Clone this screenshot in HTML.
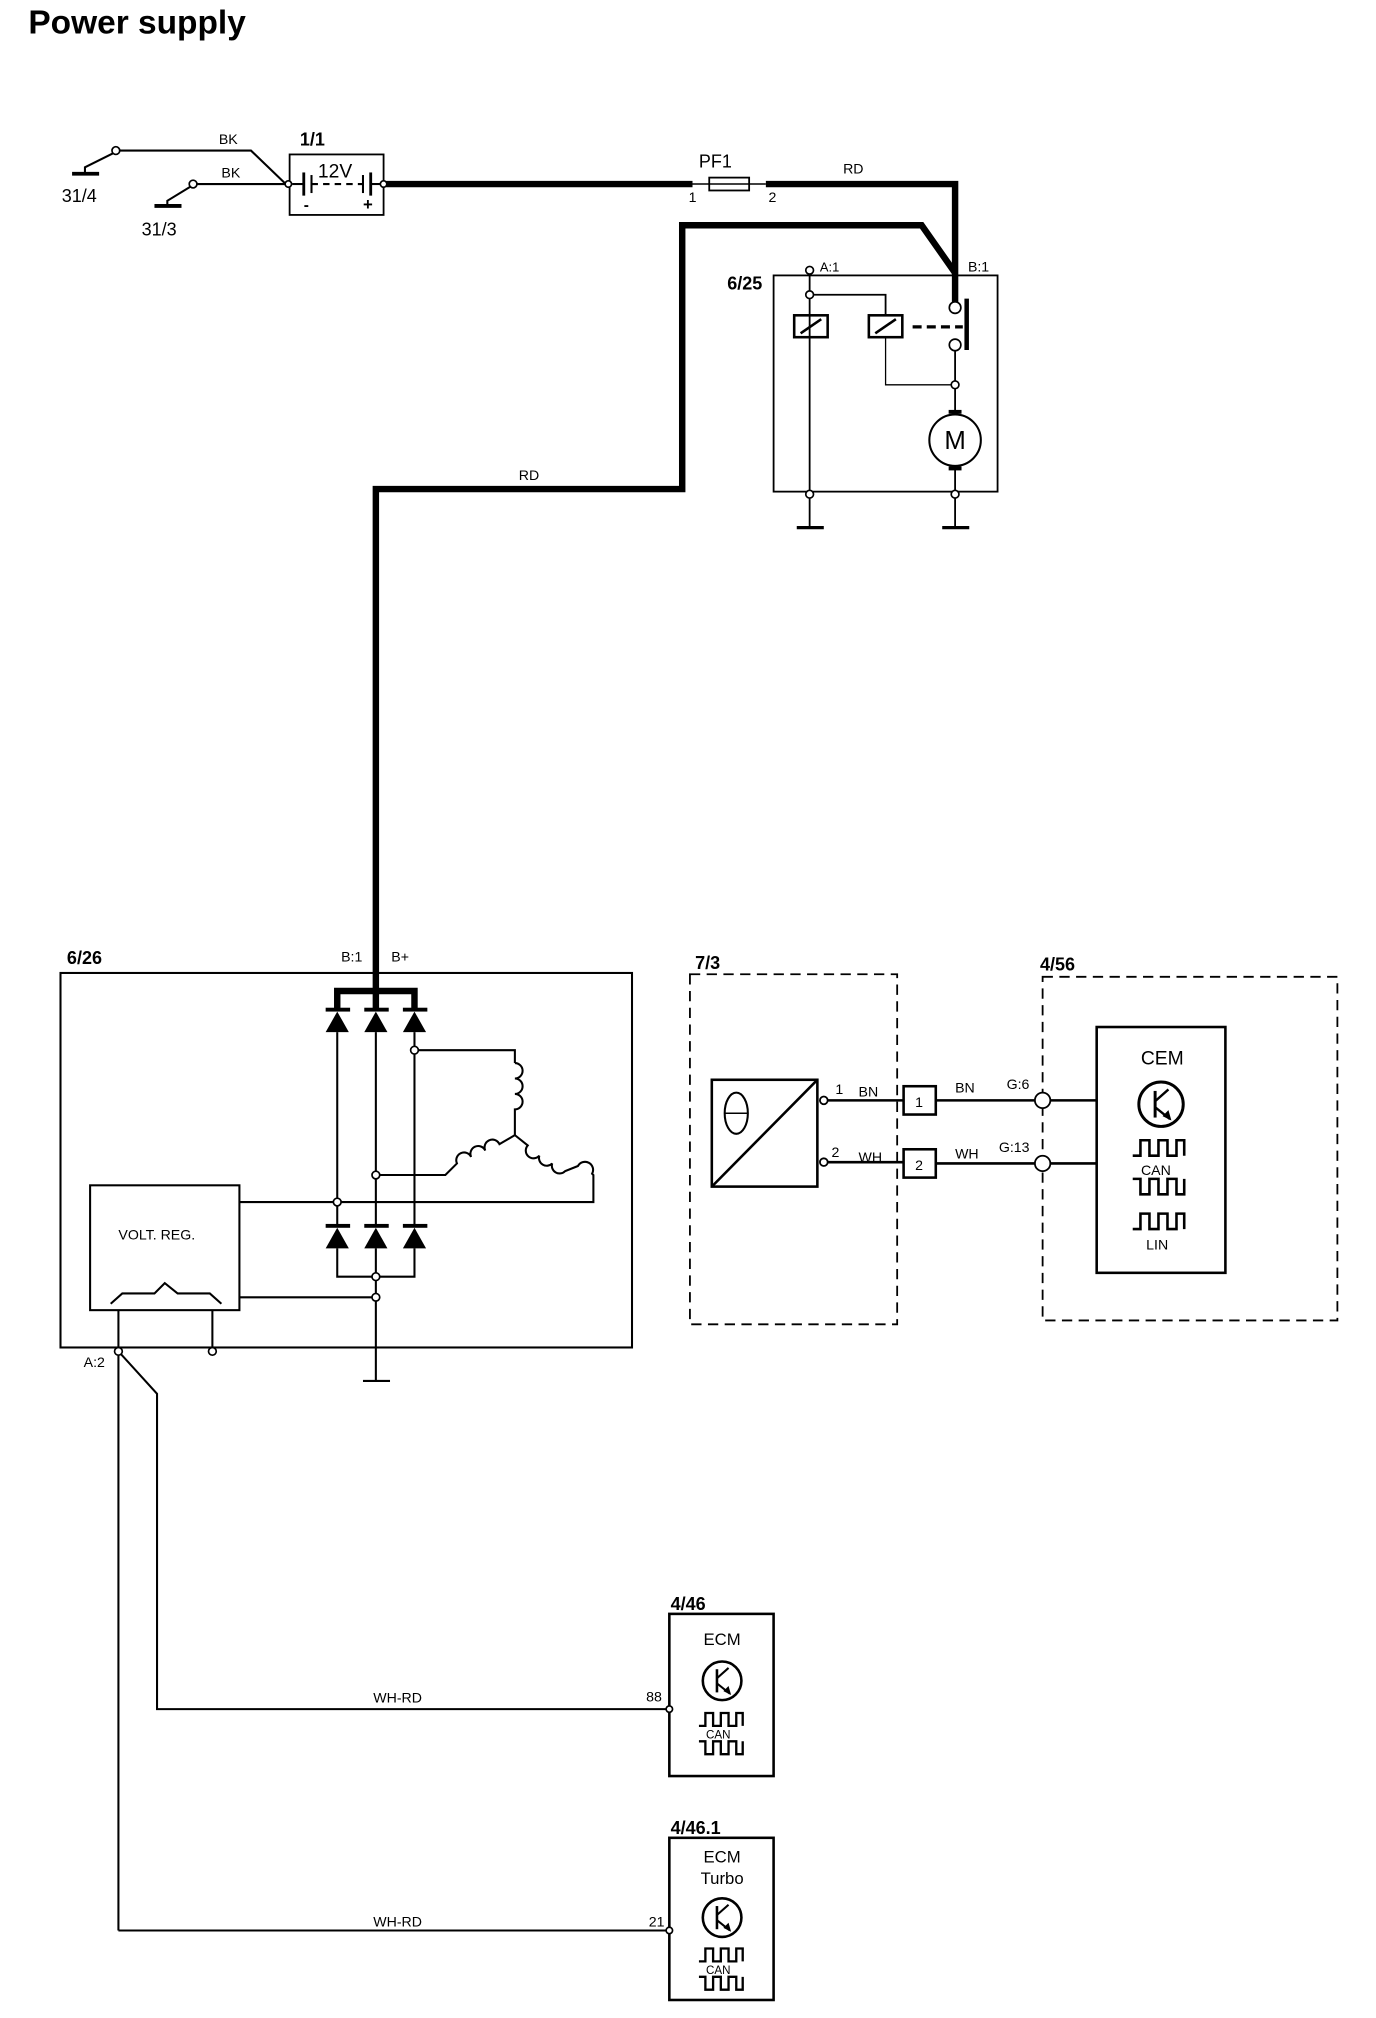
<!DOCTYPE html>
<html><head><meta charset="utf-8"><style>
html,body{margin:0;padding:0;background:#fff;}
svg{display:block;}
text{font-family:"Liberation Sans",sans-serif;fill:#000;}
.b{font-weight:bold;}
</style></head><body>
<svg width="1376" height="2018" viewBox="0 0 1069 1568" preserveAspectRatio="none" xmlns="http://www.w3.org/2000/svg">
<defs>
<g id="tr"><circle cx="0" cy="0" r="15" fill="none" stroke="#000" stroke-width="2"/><line x1="-4" y1="-9" x2="-4" y2="9" stroke="#000" stroke-width="2"/><line x1="-4" y1="-2" x2="5" y2="-10" stroke="#000" stroke-width="1.6"/><line x1="-4" y1="2" x2="6" y2="10" stroke="#000" stroke-width="1.6"/><polygon points="7,11 1,8 5,4" fill="#000"/></g>
<path id="wv" d="M0,12 h6 v-12 h7 v12 h7 v-12 h7 v12 h7 v-12 h6 v12" fill="none" stroke="#000" stroke-width="2"/>
<path id="wv2" d="M0,0 h6 v12 h7 v-12 h7 v12 h7 v-12 h7 v12 h6 v-12" fill="none" stroke="#000" stroke-width="2"/>
<path id="sw" d="M0,10 h5 v-10 h6 v10 h6 v-10 h6 v10 h6 v-10 h5 v10" fill="none" stroke="#000" stroke-width="1.8"/>
<path id="sw2" d="M0,0 h5 v10 h6 v-10 h6 v10 h6 v-10 h6 v10 h5 v-10" fill="none" stroke="#000" stroke-width="1.8"/>
</defs>
<rect width="1069" height="1568" fill="#fff"/>
<text x="22" y="26" font-size="26" class="b">Power supply</text>

<g stroke="#000" fill="none" stroke-width="1.6">
<polyline points="90,117 195,117 222,143"/>
<polyline points="88,119 66,130 66,135"/>
<line x1="56" y1="135" x2="77" y2="135" stroke-width="3"/>
<line x1="150" y1="143" x2="222" y2="143"/>
<polyline points="148,145 130,156 130,160"/>
<line x1="120" y1="160" x2="141" y2="160" stroke-width="3"/>
<rect x="225" y="120" width="73" height="47" stroke-width="1.4"/>
<line x1="227" y1="143" x2="236" y2="143"/>
<line x1="236" y1="134" x2="236" y2="152" stroke-width="2.2"/>
<line x1="242" y1="136" x2="242" y2="150"/>
<line x1="242" y1="143" x2="282" y2="143" stroke-dasharray="5,4"/>
<line x1="282" y1="136" x2="282" y2="150"/>
<line x1="288" y1="134" x2="288" y2="152" stroke-width="2.2"/>
<line x1="288" y1="143" x2="296" y2="143"/>
</g>
<g fill="#fff" stroke="#000" stroke-width="1.3">
<circle cx="90" cy="117" r="3"/><circle cx="150" cy="143" r="3"/><circle cx="224" cy="143" r="2.5"/><circle cx="298" cy="143" r="2.5"/>
</g>
<text x="170" y="112" font-size="11">BK</text>
<text x="172" y="138" font-size="11">BK</text>
<text x="48" y="157" font-size="14">31/4</text>
<text x="110" y="183" font-size="14">31/3</text>
<text x="233" y="113" font-size="14" class="b">1/1</text>
<text x="247" y="138" font-size="15">12V</text>
<text x="236" y="163" font-size="12" class="b">-</text>
<text x="282" y="163" font-size="13" class="b">+</text>

<g stroke="#000" fill="none" stroke-width="5">
<polyline points="300,143 538,143"/>
<polyline points="595,143 742,143 742,238"/>
<polyline points="742,212 716,175 530,175 530,380 292,380 292,770"/>
<polyline points="262,785 262,770 322,770 322,785"/>
<line x1="292" y1="770" x2="292" y2="785"/>
</g>
<rect x="551" y="138" width="31" height="10" fill="#fff" stroke="#000" stroke-width="1.4"/>
<line x1="538" y1="143" x2="595" y2="143" stroke="#000" stroke-width="1.2"/>
<text x="543" y="130" font-size="14">PF1</text>
<text x="535" y="157" font-size="11">1</text>
<text x="597" y="157" font-size="11">2</text>
<text x="655" y="135" font-size="11">RD</text>
<text x="403" y="373" font-size="11">RD</text>

<g stroke="#000" fill="none" stroke-width="1.4">
<rect x="601" y="214" width="174" height="168"/>
<line x1="629" y1="210" x2="629" y2="410"/>
<polyline points="629,229 688,229 688,245"/>
<rect x="617" y="245" width="26" height="17" stroke-width="2"/>
<line x1="622" y1="259" x2="638" y2="248" stroke-width="2"/>
<rect x="675" y="245" width="26" height="17" stroke-width="2"/>
<line x1="680" y1="259" x2="696" y2="248" stroke-width="2"/>
<line x1="709" y1="254" x2="748" y2="254" stroke-width="2.5" stroke-dasharray="7,4"/>
<line x1="751" y1="232" x2="751" y2="272" stroke-width="3.5"/>
<polyline points="688,262 688,299 742,299" stroke-width="1"/>
<line x1="742" y1="268" x2="742" y2="322"/>
<line x1="742" y1="362" x2="742" y2="410"/>
<circle cx="742" cy="342" r="20" stroke-width="1.6"/>
<line x1="737" y1="320" x2="747" y2="320" stroke-width="3"/>
<line x1="737" y1="364" x2="747" y2="364" stroke-width="3"/>
<line x1="619" y1="410" x2="640" y2="410" stroke-width="2.5"/>
<line x1="732" y1="410" x2="753" y2="410" stroke-width="2.5"/>
</g>
<g fill="#fff" stroke="#000" stroke-width="1.3">
<circle cx="629" cy="210" r="3"/><circle cx="629" cy="229" r="3"/><circle cx="742" cy="239" r="4.5"/><circle cx="742" cy="268" r="4.5"/><circle cx="742" cy="299" r="3"/><circle cx="629" cy="384" r="3"/><circle cx="742" cy="384" r="3"/>
</g>
<text x="742" y="349" font-size="20" text-anchor="middle">M</text>
<text x="565" y="225" font-size="14" class="b">6/25</text>
<text x="637" y="211" font-size="10">A:1</text>
<text x="752" y="211" font-size="11">B:1</text>

<text x="52" y="749" font-size="14" class="b">6/26</text>
<text x="265" y="747" font-size="11">B:1</text>
<text x="304" y="747" font-size="11">B+</text>
<g stroke="#000" fill="none" stroke-width="1.6">
<rect x="47" y="756" width="444" height="291"/>
<line x1="262" y1="802" x2="262" y2="953"/>
<line x1="292" y1="802" x2="292" y2="953"/>
<line x1="322" y1="802" x2="322" y2="953"/>
<polyline points="262,970 262,992 322,992 322,970"/>
<line x1="292" y1="970" x2="292" y2="1073"/>
<line x1="282" y1="1073" x2="303" y2="1073"/>
<polyline points="322,816 400,816 400,826"/>
<path d="M400,826 a6,6 0 0 1 0,12 a6,6 0 0 1 0,12 a6,6 0 0 1 0,12 L400,882"/>
<path d="M400,882 L388,889 a6,6 0 0 0 -11,5 a6,6 0 0 0 -11,5 a6,6 0 0 0 -11,5 L346,913 L292,913"/>
<path d="M400,882 L410,890 a6,6 0 0 0 9,8 a6,6 0 0 0 10,6 a6,6 0 0 0 10,6 L449,906 a6,6 0 0 1 11,6 L461,913 L461,934 L186,934"/>
<rect x="70" y="921" width="116" height="97"/>
<polyline points="86,1013 95,1005 120,1005 128,997 138,1005 163,1005 172,1013"/>
<line x1="186" y1="1008" x2="292" y2="1008"/>
<line x1="92" y1="1018" x2="92" y2="1500"/>
<line x1="165" y1="1018" x2="165" y2="1048"/>
<polyline points="92,1050 122,1083 122,1328 520,1328"/>
<line x1="92" y1="1500" x2="520" y2="1500"/>
</g>
<g fill="#000">
<rect x="253" y="783" width="19" height="3"/><polygon points="253,802 271,802 262,786"/>
<rect x="283" y="783" width="19" height="3"/><polygon points="283,802 301,802 292,786"/>
<rect x="313" y="783" width="19" height="3"/><polygon points="313,802 331,802 322,786"/>
<rect x="253" y="951" width="19" height="3"/><polygon points="253,970 271,970 262,954"/>
<rect x="283" y="951" width="19" height="3"/><polygon points="283,970 301,970 292,954"/>
<rect x="313" y="951" width="19" height="3"/><polygon points="313,970 331,970 322,954"/>
</g>
<g fill="#fff" stroke="#000" stroke-width="1.3">
<circle cx="322" cy="816" r="3"/><circle cx="292" cy="913" r="3"/><circle cx="262" cy="934" r="3"/><circle cx="292" cy="992" r="3"/><circle cx="292" cy="1008" r="3"/><circle cx="92" cy="1050" r="3"/><circle cx="165" cy="1050" r="3"/>
</g>
<text x="92" y="963" font-size="11">VOLT. REG.</text>
<text x="65" y="1062" font-size="11">A:2</text>
<text x="290" y="1323" font-size="11">WH-RD</text>
<text x="290" y="1497" font-size="11">WH-RD</text>
<text x="502" y="1322" font-size="11">88</text>
<text x="504" y="1497" font-size="11">21</text>

<g stroke="#000" fill="none" stroke-width="2">
<rect x="520" y="1254" width="81" height="126"/>
<rect x="520" y="1428" width="81" height="126"/>
</g>
<circle cx="520" cy="1328" r="2.5" fill="#fff" stroke="#000" stroke-width="1.3"/>
<circle cx="520" cy="1500" r="2.5" fill="#fff" stroke="#000" stroke-width="1.3"/>
<text x="521" y="1251" font-size="14" class="b">4/46</text>
<text x="561" y="1278" font-size="13" text-anchor="middle">ECM</text>
<use href="#tr" x="561" y="1306"/>
<use href="#sw" x="543" y="1331"/>
<text x="558" y="1351" font-size="9" text-anchor="middle">CAN</text>
<use href="#sw2" x="543" y="1353"/>
<text x="521" y="1425" font-size="14" class="b">4/46.1</text>
<text x="561" y="1447" font-size="13" text-anchor="middle">ECM</text>
<text x="561" y="1464" font-size="13" text-anchor="middle">Turbo</text>
<use href="#tr" x="561" y="1490"/>
<use href="#sw" x="543" y="1514"/>
<text x="558" y="1534" font-size="9" text-anchor="middle">CAN</text>
<use href="#sw2" x="543" y="1536"/>

<text x="540" y="753" font-size="14" class="b">7/3</text>
<text x="808" y="754" font-size="14" class="b">4/56</text>
<g stroke="#000" fill="none" stroke-width="1.4" stroke-dasharray="8,5">
<rect x="536" y="757" width="161" height="272"/>
<rect x="810" y="759" width="229" height="267"/>
</g>
<g stroke="#000" fill="none" stroke-width="2">
<rect x="553" y="839" width="82" height="83"/>
<line x1="553" y1="922" x2="635" y2="839"/>
<ellipse cx="572" cy="865" rx="9" ry="16" stroke-width="1.6"/>
<line x1="563" y1="865" x2="581" y2="865" stroke-width="1.2"/>
<line x1="640" y1="855" x2="702" y2="855"/>
<line x1="640" y1="903" x2="702" y2="903"/>
<rect x="702" y="844" width="25" height="22"/>
<rect x="702" y="893" width="25" height="22"/>
<line x1="727" y1="855" x2="804" y2="855"/>
<line x1="727" y1="904" x2="804" y2="904"/>
<line x1="816" y1="855" x2="852" y2="855"/>
<line x1="816" y1="904" x2="852" y2="904"/>
<rect x="852" y="798" width="100" height="191"/>
</g>
<g fill="#fff" stroke="#000" stroke-width="1.4">
<circle cx="640" cy="855" r="3"/><circle cx="640" cy="903" r="3"/>
<circle cx="810" cy="855" r="6"/><circle cx="810" cy="904" r="6"/>
</g>
<text x="649" y="850" font-size="11">1</text>
<text x="667" y="852" font-size="11">BN</text>
<text x="646" y="899" font-size="11">2</text>
<text x="667" y="903" font-size="11">WH</text>
<text x="714" y="860" font-size="11" text-anchor="middle">1</text>
<text x="714" y="909" font-size="11" text-anchor="middle">2</text>
<text x="742" y="849" font-size="11">BN</text>
<text x="742" y="900" font-size="11">WH</text>
<text x="782" y="846" font-size="11">G:6</text>
<text x="776" y="895" font-size="11">G:13</text>
<text x="903" y="827" font-size="15" text-anchor="middle">CEM</text>
<use href="#tr" x="902" y="858" transform="translate(902,858) scale(1.15) translate(-902,-858)"/>
<use href="#wv" x="880" y="886"/>
<text x="898" y="913" font-size="11" text-anchor="middle">CAN</text>
<use href="#wv2" x="880" y="916"/>
<use href="#wv" x="880" y="943"/>
<text x="899" y="971" font-size="11" text-anchor="middle">LIN</text>
</svg>
</body></html>
